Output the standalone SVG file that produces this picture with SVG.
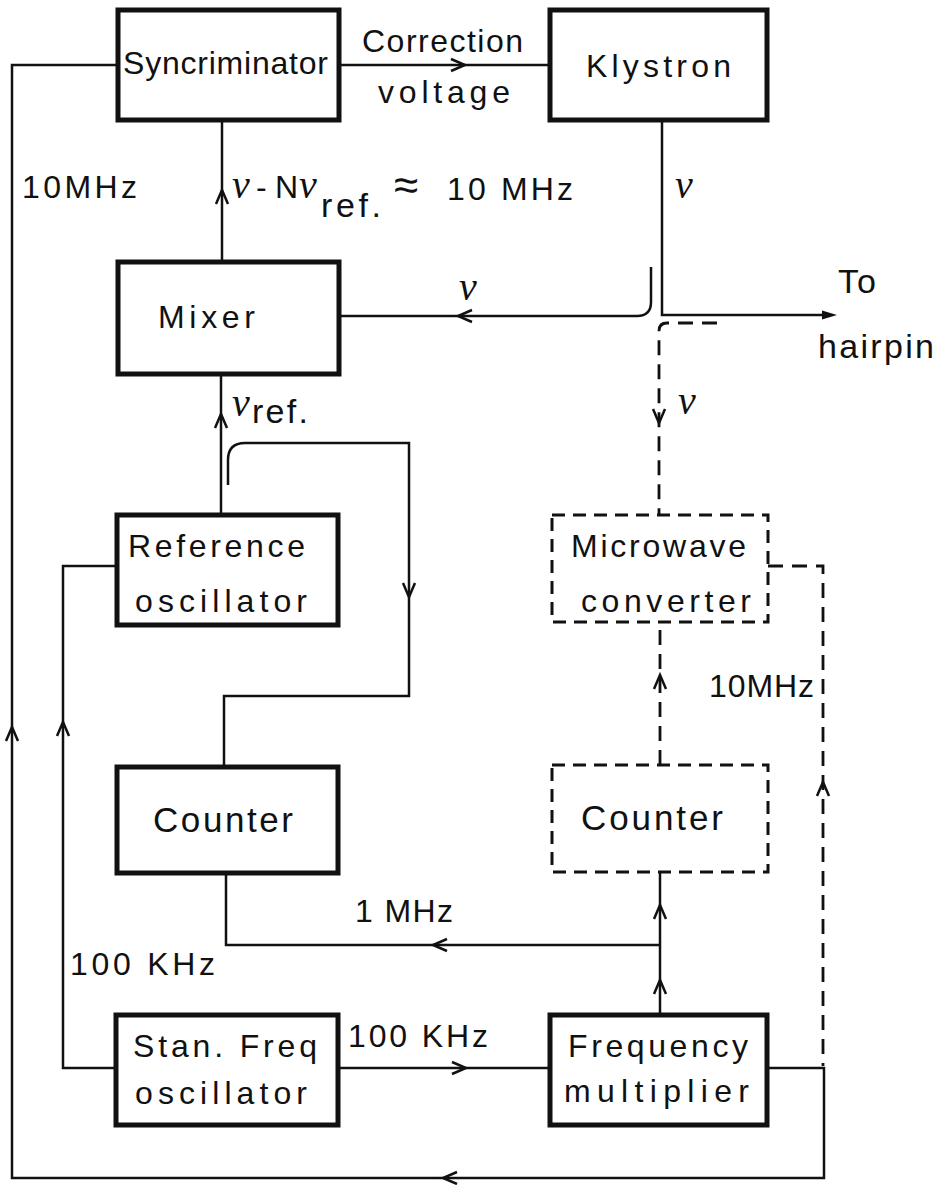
<svg xmlns="http://www.w3.org/2000/svg" xmlns:xlink="http://www.w3.org/1999/xlink" width="942" height="1185" viewBox="0 0 942 1185">
<style>
.box{fill:none;stroke:#111;stroke-width:5}
.dbox{fill:none;stroke:#111;stroke-width:3;stroke-dasharray:13 8}
.ln{fill:none;stroke:#111;stroke-width:2.5}
.dl{fill:none;stroke:#111;stroke-width:2.8;stroke-dasharray:15 9}
.ah{fill:none;stroke:#111;stroke-width:2.5;stroke-linejoin:miter}
.t{font-family:"Liberation Sans","DejaVu Sans",sans-serif;font-size:32px;fill:#111}
.big{font-size:35px}
.nu{font-family:"Liberation Serif","DejaVu Serif",serif;font-style:italic;font-size:40px;fill:#111}
</style>
<defs>
<path id="ahU" d="M-6,14 L0,0 L6,14"/>
</defs>
<rect width="942" height="1185" fill="#fff"/>

<g id="connectors">
  <path class="ln" d="M767,1068 H824 V1178 H12 V65 H118"/>
  <path class="ln" d="M339,65 H550"/>
  <path class="ln" d="M222,262 V120"/>
  <path class="ln" d="M662,120 V315 H830"/>
  <path d="M837,315 L822,310.5 L822,319.5 Z" fill="#111"/>
  <path class="ln" d="M651,267 V302 Q651,316 637,316 H339"/>
  <path class="ln" d="M221,515 V374"/>
  <path class="ln" d="M228,485 V460 Q228,443 245,443 H409 V696 H224 V767"/>
  <path class="ln" d="M117,566 H63 V1068 H116"/>
  <path class="ln" d="M226,873 V945 H660"/>
  <path class="ln" d="M660,1015 V871"/>
  <path class="ln" d="M338,1068 H550"/>
  <path class="dl" d="M717,323 H667 Q659,323 659,331 V515"/>
  <path class="dl" d="M660,765 V622"/>
  <path class="dl" d="M768,566 H823 V1066"/>
  <use xlink:href="#ahU" class="ah" transform="translate(12,727)"/>
  <use xlink:href="#ahU" class="ah" transform="translate(443,1178) rotate(-90)"/>
  <use xlink:href="#ahU" class="ah" transform="translate(465,65) rotate(90)"/>
  <use xlink:href="#ahU" class="ah" transform="translate(222,190)"/>
  <use xlink:href="#ahU" class="ah" transform="translate(458,316) rotate(-90)"/>
  <use xlink:href="#ahU" class="ah" transform="translate(221,414)"/>
  <use xlink:href="#ahU" class="ah" transform="translate(409,597) rotate(180)"/>
  <use xlink:href="#ahU" class="ah" transform="translate(63,722)"/>
  <use xlink:href="#ahU" class="ah" transform="translate(433,945) rotate(-90)"/>
  <use xlink:href="#ahU" class="ah" transform="translate(660,980)"/>
  <use xlink:href="#ahU" class="ah" transform="translate(660,905)"/>
  <use xlink:href="#ahU" class="ah" transform="translate(466,1068) rotate(90)"/>
  <use xlink:href="#ahU" class="ah" transform="translate(659,423) rotate(180)"/>
  <use xlink:href="#ahU" class="ah" transform="translate(660,675)"/>
  <use xlink:href="#ahU" class="ah" transform="translate(823,782)"/>
</g>

<g id="labels">
  <text class="t" x="362" y="52" textLength="161">Correction</text>
  <text class="t" x="378" y="103" textLength="132">voltage</text>
  <text class="t" x="22" y="198" textLength="115">10MHz</text>
  <text class="t" y="198"><tspan class="nu" x="232">ν</tspan><tspan x="256" textLength="42">-N</tspan><tspan class="nu" x="299">ν</tspan><tspan x="321" y="217" textLength="60" style="font-size:34px">ref.</tspan><tspan x="394" y="200" style="font-size:44px">≈</tspan><tspan x="447" textLength="126">10 MHz</tspan></text>
  <text class="nu" x="675" y="198">ν</text>
  <text class="nu" x="459" y="300">ν</text>
  <text class="t" x="838" y="293" textLength="38" style="font-size:34px">To</text>
  <text class="t" x="818" y="358" textLength="116" style="font-size:34px">hairpin</text>
  <text y="416"><tspan class="nu" x="232">ν</tspan><tspan class="t" x="252" y="423" textLength="56" style="font-size:34px">ref.</tspan></text>
  <text class="nu" x="678" y="414">ν</text>
  <text class="t" x="709" y="697" textLength="105">10MHz</text>
  <text class="t" x="355" y="922" textLength="98">1 MHz</text>
  <text class="t" x="70" y="975" textLength="145">100 KHz</text>
  <text class="t" x="348" y="1047" textLength="140">100 KHz</text>
</g>

<g id="syncriminator">
  <rect class="box" x="118" y="10" width="221" height="110"/>
  <text class="t" x="123" y="74" textLength="205">Syncriminator</text>
</g>
<g id="klystron">
  <rect class="box" x="550" y="10" width="217" height="110"/>
  <text class="t" x="586" y="77" textLength="145">Klystron</text>
</g>
<g id="mixer">
  <rect class="box" x="118" y="262" width="221" height="112"/>
  <text class="t" x="158" y="328" textLength="97">Mixer</text>
</g>
<g id="reference-oscillator">
  <rect class="box" x="117" y="515" width="221" height="110"/>
  <text class="t" x="128" y="557" textLength="177">Reference</text>
  <text class="t" x="135" y="612" textLength="172">oscillator</text>
</g>
<g id="counter-left">
  <rect class="box" x="117" y="767" width="221" height="106"/>
  <text class="t big" x="153" y="832" textLength="140">Counter</text>
</g>
<g id="stan-freq-oscillator">
  <rect class="box" x="116" y="1015" width="222" height="110"/>
  <text class="t" x="133" y="1057" textLength="184">Stan. Freq</text>
  <text class="t" x="135" y="1104" textLength="172">oscillator</text>
</g>
<g id="frequency-multiplier">
  <rect class="box" x="550" y="1015" width="217" height="110"/>
  <text class="t" x="568" y="1057" textLength="180">Frequency</text>
  <text class="t" x="564" y="1102" textLength="185">multiplier</text>
</g>
<g id="microwave-converter">
  <rect class="dbox" x="552" y="515" width="216" height="107"/>
  <text class="t" x="571" y="557" textLength="175">Microwave</text>
  <text class="t" x="581" y="612" textLength="170">converter</text>
</g>
<g id="counter-right">
  <rect class="dbox" x="552" y="765" width="216" height="107"/>
  <text class="t big" x="581" y="830" textLength="142">Counter</text>
</g>
</svg>
